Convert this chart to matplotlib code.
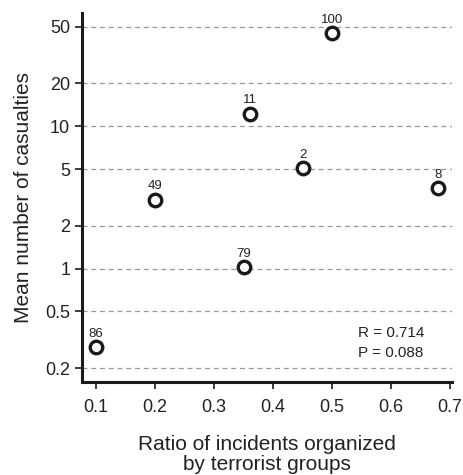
import matplotlib

matplotlib.use("Agg")
import matplotlib.pyplot as plt
from matplotlib.ticker import FixedLocator, NullLocator

plt.rcParams["font.family"] = ["Liberation Sans", "DejaVu Sans"]

# data
ratio = [0.10, 0.20, 0.35, 0.36, 0.45, 0.50, 0.68]
casualties = [0.28, 3.05, 1.02, 12.2, 5.05, 45.0, 3.65]
labels = ["86", "49", "79", "11", "2", "100", "8"]
y_ticks = [0.2, 0.5, 1, 2, 5, 10, 20, 50]
y_tick_labels = ["0.2", "0.5", "1", "2", "5", "10", "20", "50"]
x_ticks = [0.1, 0.2, 0.3, 0.4, 0.5, 0.6, 0.7]
stats_text = "R = 0.714\nP = 0.088"

fig = plt.figure(figsize=(4.63, 4.75), dpi=100)
ax = fig.add_axes([0.177, 0.196, 0.799, 0.777])

ax.set_yscale("log")
ax.set_xlim(0.076, 0.703)
ax.set_ylim(0.16, 62.5)

for y in y_ticks:
    ax.axhline(y, color="#999999", linestyle=(0, (4, 3)), linewidth=0.9, zorder=1)

ax.plot(
    ratio,
    casualties,
    linestyle="none",
    marker="o",
    markersize=9,
    markerfacecolor="white",
    markeredgecolor="#1a1a1a",
    markeredgewidth=2.4,
    zorder=3,
)
for x, y, lab in zip(ratio, casualties, labels):
    ax.annotate(lab, (x, y), xytext=(0, 5.5), textcoords="offset points",
                ha="center", va="bottom", fontsize=9.5, color="#222222")

ax.yaxis.set_major_locator(FixedLocator(y_ticks))
ax.yaxis.set_minor_locator(NullLocator())
ax.set_yticklabels(y_tick_labels)
ax.set_xticks(x_ticks)
ax.set_xticklabels([f"{v:.1f}" for v in x_ticks])

for side in ["top", "right"]:
    ax.spines[side].set_visible(False)
for side in ["left", "bottom"]:
    ax.spines[side].set_linewidth(2.2)
    ax.spines[side].set_color("#1a1a1a")

ax.tick_params(axis="both", direction="out", length=5, width=1.2, colors="#1a1a1a",
               labelsize=13, labelcolor="#222222")
ax.tick_params(axis="x", pad=7)

ax.text(0.745, 0.105, stats_text, fontsize=11, color="#222222", ha="left", va="center",
        linespacing=1.5, transform=ax.transAxes)

ax.set_ylabel("Mean number of casualties", fontsize=15, color="#222222", labelpad=9)
ax.set_xlabel("Ratio of incidents organized\nby terrorist groups", fontsize=15,
              color="#222222", labelpad=14, linespacing=1.05)

fig.savefig("out.png", dpi=100)
